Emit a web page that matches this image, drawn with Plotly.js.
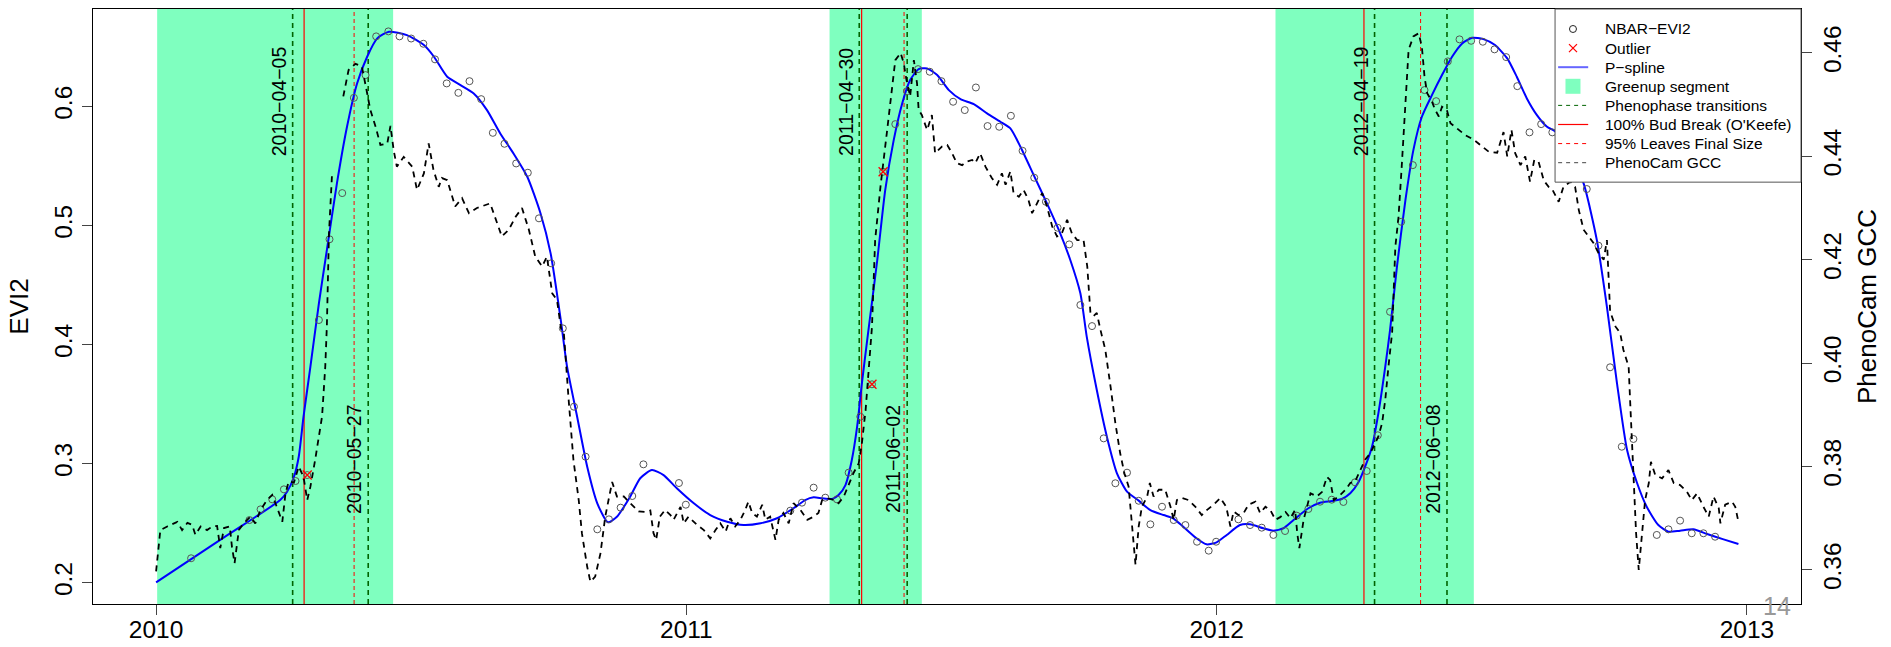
<!DOCTYPE html>
<html>
<head>
<meta charset="utf-8">
<script src="https://cdn.plot.ly/plotly-3.0.1.min.js"></script>
<style>
html,body{margin:0;padding:0;background:#fff;}
#chart{width:1891px;height:647px;}
</style>
</head>
<body>
<div id="chart"></div>
<script>
// ---------- DATA (decimal years) ----------
const yearTicks = [2010, 2011, 2012, 2013];
const yearTickText = ['2010', '2011', '2012', '2013'];
const eviTicks = [0.2, 0.3, 0.4, 0.5, 0.6];
const eviTickText = ['0.2', '0.3', '0.4', '0.5', '0.6'];
const gccTicks = [0.36, 0.38, 0.40, 0.42, 0.44, 0.46];
const gccTickText = ['0.36', '0.38', '0.40', '0.42', '0.44', '0.46'];

// NBAR-EVI2 observations
const eviX = [2010.066,2010.176,2010.197,2010.219,2010.241,2010.263,2010.285,2010.307,2010.327,2010.351,
  2010.373,2010.395,2010.415,2010.438,2010.459,2010.481,2010.504,2010.526,2010.548,2010.570,
  2010.591,2010.613,2010.635,2010.657,2010.679,2010.701,2010.722,2010.745,2010.767,2010.788,
  2010.810,2010.832,2010.854,2010.876,2010.898,2010.919,2010.986,2010.999,
  2011.196,2011.218,2011.240,2011.262,2011.284,2011.306,2011.328,2011.350,2011.371,2011.394,
  2011.416,2011.437,2011.459,2011.481,2011.503,2011.525,2011.546,2011.568,2011.590,2011.612,
  2011.634,2011.656,2011.678,2011.700,2011.722,2011.743,2011.765,2011.787,2011.809,2011.831,
  2011.853,2011.875,2011.897,2011.919,2011.941,2011.963,2011.985,2011.999,
  2012.041,2012.063,2012.085,2012.107,2012.129,2012.151,2012.173,2012.195,2012.217,2012.239,
  2012.261,2012.283,2012.304,2012.327,2012.348,2012.370,2012.392,2012.414,2012.436,2012.458,
  2012.480,2012.502,2012.524,2012.546,2012.567,2012.590,2012.612,2012.633,2012.698,2012.720,
  2012.742,2012.764,2012.786,2012.830,2012.852,2012.874,2012.896,2012.918,2012.940];
const eviY = [0.2205,0.2526,0.2616,0.2700,0.2784,0.2854,0.2904,0.4206,0.4884,0.5272,
  0.6072,0.6263,0.6588,0.6630,0.6588,0.6570,0.6526,0.6395,0.6193,0.6114,
  0.6212,0.6061,0.5778,0.5686,0.5521,0.5443,0.5060,0.4682,0.4136,0.3478,
  0.3058,0.2448,0.2532,0.2630,0.2728,0.2994,0.2837,0.2655,
  0.2605,0.2672,0.2798,0.2714,0.2700,0.2924,0.3394,0.3666,0.5451,0.5851,
  0.6128,0.6313,0.6291,0.6212,0.6039,0.5969,0.6159,0.5835,0.5829,0.5921,
  0.5627,0.5401,0.5199,0.4981,0.4841,0.4332,0.4155,0.3212,0.2835,0.2924,
  0.2688,0.2490,0.2638,0.2526,0.2484,0.2344,0.2269,0.2344,
  0.2532,0.2484,0.2462,0.2401,0.2434,0.2563,0.2619,0.2680,0.2697,0.2678,
  0.2843,0.2938,0.3238,0.4275,0.5031,0.5507,0.6137,0.6044,0.6378,0.6563,
  0.6551,0.6543,0.6479,0.6414,0.6170,0.5782,0.5851,0.5782,0.5306,0.4830,
  0.3809,0.3142,0.3207,0.2401,0.2448,0.2521,0.2415,0.2415,0.2386];

// Outliers
const outlierX = [2010.285, 2011.350, 2011.371];
const outlierY = [0.2904, 0.3666, 0.5451];

// P-spline fit
const splineX = [2010.000,2010.128,2010.234,2010.247,2010.260,2010.269,2010.278,2010.291,2010.307,2010.322,
  2010.341,2010.360,2010.379,2010.398,2010.417,2010.439,2010.473,2010.505,2010.524,2010.549,
  2010.574,2010.599,2010.624,2010.649,2010.674,2010.700,2010.725,2010.744,2010.764,2010.775,
  2010.794,2010.813,2010.832,2010.852,2010.869,2010.894,2010.913,2010.935,2010.957,2010.982,
  2011.014,2011.045,2011.077,2011.108,2011.140,2011.171,2011.202,2011.224,2011.240,2011.256,
  2011.275,2011.287,2011.300,2011.312,2011.322,2011.331,2011.341,2011.360,2011.375,2011.391,
  2011.407,2011.422,2011.438,2011.454,2011.473,2011.495,2011.517,2011.542,2011.567,2011.592,
  2011.611,2011.630,2011.655,2011.680,2011.705,2011.724,2011.743,2011.755,2011.774,2011.793,
  2011.812,2011.831,2011.853,2011.875,2011.900,2011.918,2011.937,2011.962,2011.981,2012.000,
  2012.019,2012.044,2012.063,2012.088,2012.107,2012.126,2012.145,2012.173,2012.195,2012.218,
  2012.236,2012.252,2012.268,2012.280,2012.293,2012.305,2012.318,2012.327,2012.340,2012.356,
  2012.371,2012.387,2012.406,2012.425,2012.444,2012.463,2012.482,2012.503,2012.525,2012.548,
  2012.566,2012.585,2012.604,2012.623,2012.639,2012.665,2012.692,2012.717,2012.736,2012.755,
  2012.774,2012.793,2012.811,2012.833,2012.852,2012.874,2012.899,2012.925,2012.956,2012.984];
const splineY = [0.2003,0.2381,0.2694,0.2764,0.2890,0.3058,0.3394,0.3814,0.4346,0.4793,
  0.5353,0.5829,0.6193,0.6417,0.6571,0.6627,0.6599,0.6515,0.6417,0.6249,
  0.6179,0.6109,0.5969,0.5773,0.5605,0.5409,0.5101,0.4766,0.4178,0.3814,
  0.3394,0.2974,0.2667,0.2507,0.2554,0.2722,0.2877,0.2946,0.2904,0.2793,
  0.2667,0.2568,0.2512,0.2484,0.2499,0.2541,0.2625,0.2694,0.2717,0.2709,
  0.2703,0.2736,0.2820,0.3030,0.3310,0.3674,0.4038,0.4710,0.5297,0.5717,
  0.6025,0.6221,0.6313,0.6319,0.6263,0.6137,0.6061,0.6019,0.5941,0.5871,
  0.5815,0.5661,0.5423,0.5185,0.4934,0.4710,0.4430,0.4066,0.3618,0.3226,
  0.2919,0.2764,0.2689,0.2610,0.2568,0.2541,0.2470,0.2373,0.2322,0.2339,
  0.2401,0.2484,0.2490,0.2457,0.2437,0.2457,0.2526,0.2625,0.2672,0.2686,
  0.2703,0.2751,0.2848,0.2974,0.3142,0.3422,0.3814,0.4122,0.4653,0.5213,
  0.5633,0.5913,0.6095,0.6263,0.6417,0.6529,0.6576,0.6565,0.6515,0.6403,
  0.6249,0.6067,0.5927,0.5829,0.5787,0.5620,0.5353,0.4877,0.4317,0.3674,
  0.3114,0.2835,0.2638,0.2484,0.2428,0.2437,0.2448,0.2409,0.2364,0.2325];

// PhenoCam GCC (null = gap in record)
const gccX = [2010.000,2010.008,2010.021,2010.040,2010.049,2010.059,2010.068,2010.074,2010.084,2010.096,
  2010.106,2010.115,2010.121,2010.128,2010.139,2010.143,2010.148,2010.156,2010.165,2010.178,
  2010.187,2010.197,2010.209,2010.219,2010.225,2010.238,2010.244,2010.250,2010.260,2010.269,
  2010.278,2010.285,2010.291,2010.300,2010.313,2010.319,2010.322,2010.326,2010.332,null,
  2010.353,2010.363,2010.376,2010.388,2010.398,2010.404,2010.414,2010.423,2010.436,2010.442,
  2010.448,2010.454,2010.467,2010.483,2010.492,2010.505,2010.514,2010.523,2010.533,2010.539,
  2010.549,2010.564,2010.577,2010.590,2010.605,2010.630,2010.652,2010.665,2010.678,2010.690,
  2010.703,2010.715,2010.728,2010.737,2010.747,2010.756,2010.764,2010.769,2010.778,2010.787,
  2010.797,2010.803,2010.813,2010.819,2010.828,2010.838,2010.847,2010.860,2010.869,2010.882,
  2010.894,2010.910,2010.923,2010.932,2010.938,2010.943,2010.950,2010.960,2010.970,2010.976,
  2010.989,2010.995,2011.004,2011.020,2011.033,2011.045,2011.055,2011.064,2011.074,2011.083,
  2011.092,2011.102,2011.111,2011.117,2011.124,2011.133,2011.143,2011.149,2011.158,2011.168,
  2011.174,2011.183,2011.193,2011.202,2011.215,2011.228,2011.240,2011.249,2011.256,2011.265,
  2011.278,2011.287,2011.297,2011.306,2011.315,2011.325,2011.331,2011.338,2011.344,2011.350,
  2011.356,2011.366,2011.378,2011.388,2011.394,2011.404,2011.410,2011.415,2011.422,2011.429,
  2011.435,2011.438,2011.444,2011.454,2011.463,2011.469,2011.482,2011.492,2011.501,2011.510,
  2011.520,2011.529,2011.539,2011.545,2011.554,2011.564,2011.576,2011.586,2011.595,2011.602,
  2011.611,2011.617,2011.627,2011.636,2011.645,2011.652,2011.661,2011.671,2011.680,2011.690,
  2011.699,2011.708,2011.718,2011.727,2011.737,2011.749,2011.756,2011.762,2011.768,2011.774,
  2011.781,2011.790,2011.800,2011.809,2011.818,2011.826,2011.834,2011.840,2011.847,2011.853,
  2011.859,2011.869,2011.874,2011.881,2011.891,2011.903,2011.913,2011.919,2011.925,2011.935,
  2011.947,2011.960,2011.972,2011.982,2011.994,2012.007,2012.018,2012.026,2012.032,2012.041,
  2012.051,2012.060,2012.073,2012.082,2012.092,2012.101,2012.111,2012.120,2012.130,2012.139,
  2012.148,2012.152,2012.156,2012.164,2012.177,2012.189,2012.199,2012.208,2012.214,2012.221,
  2012.230,2012.243,2012.252,2012.261,2012.271,2012.280,2012.290,2012.299,2012.305,2012.312,
  2012.318,2012.324,2012.331,2012.337,2012.343,2012.349,2012.356,2012.362,2012.371,2012.381,
  2012.387,2012.392,2012.397,2012.406,2012.412,2012.419,2012.425,2012.434,2012.441,2012.453,
  2012.469,2012.485,2012.500,2012.513,2012.529,2012.541,2012.548,2012.556,2012.563,2012.573,
  2012.582,2012.591,2012.599,2012.607,2012.617,2012.626,2012.632,2012.645,2012.654,2012.667,
  2012.676,2012.683,2012.692,2012.701,2012.711,2012.720,2012.730,2012.736,2012.742,2012.752,
  2012.761,2012.767,2012.777,2012.780,2012.783,2012.786,2012.791,2012.796,2012.802,2012.808,
  2012.815,2012.819,2012.827,2012.840,2012.852,2012.862,2012.874,2012.887,2012.896,2012.906,
  2012.918,2012.928,2012.937,2012.947,2012.950,2012.959,2012.972,2012.978,2012.984];
const gccY = [0.3597,0.3677,0.3684,0.3693,0.3677,0.3691,0.3687,0.3668,0.3684,0.3677,
  0.3684,0.3685,0.3642,0.3681,0.3684,0.3645,0.3613,0.3677,0.3690,0.3703,
  0.3690,0.3716,0.3735,0.3745,0.3729,0.3693,0.3748,0.3771,0.3769,0.3800,
  0.3780,0.3735,0.3761,0.3813,0.3897,0.3993,0.4071,0.4251,0.4370,null,
  0.4516,0.4567,0.4579,0.4574,0.4522,0.4490,0.4457,0.4422,0.4425,0.4459,
  0.4412,0.4380,0.4399,0.4380,0.4335,0.4367,0.4425,0.4374,0.4341,0.4358,
  0.4354,0.4303,0.4319,0.4290,0.4300,0.4309,0.4245,0.4258,0.4283,0.4300,
  0.4258,0.4206,0.4187,0.4206,0.4135,0.4122,0.4064,0.4058,0.3929,0.3813,
  0.3735,0.3671,0.3606,0.3577,0.3587,0.3632,0.3703,0.3770,0.3742,0.3742,
  0.3729,0.3713,0.3712,0.3715,0.3671,0.3658,0.3703,0.3716,0.3706,0.3697,
  0.3722,0.3690,0.3703,0.3687,0.3677,0.3661,0.3677,0.3690,0.3674,0.3700,
  0.3684,0.3697,0.3716,0.3732,0.3710,0.3703,0.3726,0.3697,0.3703,0.3658,
  0.3697,0.3710,0.3690,0.3729,0.3716,0.3697,0.3703,0.3710,0.3735,0.3739,
  0.3735,0.3729,0.3742,0.3764,0.3787,0.3806,0.3845,0.3909,0.3993,0.4070,
  0.4238,0.4341,0.4445,0.4541,0.4586,0.4600,0.4580,0.4548,0.4516,0.4586,
  0.4541,0.4490,0.4480,0.4451,0.4480,0.4406,0.4419,0.4422,0.4406,0.4387,
  0.4383,0.4390,0.4393,0.4387,0.4406,0.4380,0.4358,0.4345,0.4367,0.4345,
  0.4371,0.4329,0.4322,0.4335,0.4316,0.4290,0.4309,0.4329,0.4303,0.4264,
  0.4245,0.4251,0.4277,0.4251,0.4238,0.4238,0.4187,0.4097,0.4091,0.4097,
  0.4064,0.4026,0.3954,0.3884,0.3826,0.3787,0.3761,0.3697,0.3610,0.3684,
  0.3722,0.3742,0.3768,0.3742,0.3755,0.3755,0.3722,0.3697,0.3735,0.3739,
  0.3735,0.3722,0.3706,0.3716,0.3726,0.3739,0.3722,0.3684,0.3713,0.3706,
  0.3710,0.3726,0.3732,0.3710,0.3722,0.3716,0.3697,0.3702,0.3712,0.3700,
  0.3716,0.3671,0.3642,0.3697,0.3748,0.3742,0.3751,0.3780,0.3774,0.3735,
  0.3742,0.3755,0.3768,0.3771,0.3793,0.3813,0.3826,0.3845,0.3858,0.3884,
  0.3929,0.3993,0.4060,0.4225,0.4283,0.4380,0.4509,0.4606,0.4632,0.4638,
  0.4612,0.4554,0.4522,0.4506,0.4490,0.4477,0.4496,0.4490,0.4464,0.4454,
  0.4441,0.4432,0.4419,0.4409,0.4407,0.4447,0.4400,0.4451,0.4406,0.4383,
  0.4400,0.4351,0.4393,0.4390,0.4353,0.4341,0.4338,0.4312,0.4341,0.4351,
  0.4341,0.4296,0.4258,0.4245,0.4232,0.4213,0.4200,0.4238,0.4100,0.4071,
  0.4058,0.4026,0.3993,0.3922,0.3851,0.3768,0.3671,0.3600,0.3664,0.3735,
  0.3768,0.3809,0.3784,0.3777,0.3793,0.3768,0.3764,0.3751,0.3735,0.3748,
  0.3722,0.3703,0.3742,0.3719,0.3690,0.3726,0.3732,0.3722,0.3693];

// Greenup segments
const greenupStart = [2010.002, 2011.270, 2012.111];
const greenupEnd = [2010.447, 2011.444, 2012.485];
// Phenophase transitions (start / end of greenup)
const transitionDates = [2010.2575, 2010.4000, 2011.3260, 2011.4164, 2012.2978, 2012.4344];
const transitionLabels = ['2010−04−05', '2010−05−27', '2011−04−30', '2011−06−02', '2012−04−19', '2012−06−08'];
const transitionLabelLevel = [0.604, 0.304, 0.604, 0.304, 0.604, 0.304];
// Ground observations
const budBreakDates = [2010.2791, 2011.3305, 2012.2778];
const leavesFinalDates = [2010.3734, 2011.4105, 2012.3846];

const legendNames = ['NBAR−EVI2', 'Outlier', 'P−spline', 'Greenup segment', 'Phenophase transitions',
  "100% Bud Break (O'Keefe)", '95% Leaves Final Size', 'PhenoCam GCC'];

// ---------- CHART ----------
const FONT = 'Liberation Sans, Arial, Helvetica, sans-serif';
const EVI_RANGE = [0.1821, 0.6818];
const GCC_RANGE = [0.3534, 0.4685];
const X_RANGE = [2009.881, 2013.102];
const MINT = 'rgb(127,255,191)';
const C = {pheno: '#006400', red: '#ff0000', blue: '#0000ff', pts: '#555555', gcc: '#000000'};

function vlines(dates) {
  const x = [], y = [];
  dates.forEach(d => { x.push(d, d, null); y.push(EVI_RANGE[0], EVI_RANGE[1], null); });
  return {x, y};
}

const traces = [];
const ph = vlines(transitionDates);
traces.push({x: ph.x, y: ph.y, mode: 'lines', name: legendNames[4],
  line: {color: C.pheno, width: 1.6, dash: '5px,4px'}});
const bb = vlines(budBreakDates);
traces.push({x: bb.x, y: bb.y, mode: 'lines', name: legendNames[5],
  line: {color: C.red, width: 1.2}});
const lf = vlines(leavesFinalDates);
traces.push({x: lf.x, y: lf.y, mode: 'lines', name: legendNames[6],
  line: {color: C.red, width: 1, dash: '4px,3px'}});
traces.push({x: splineX, y: splineY, mode: 'lines', name: legendNames[2],
  line: {color: C.blue, width: 2, shape: 'spline', smoothing: 0.6}});
traces.push({x: eviX, y: eviY, mode: 'markers', name: legendNames[0],
  marker: {symbol: 'circle-open', size: 7, color: C.pts, line: {width: 1, color: C.pts}}});
traces.push({x: outlierX, y: outlierY, mode: 'markers', name: legendNames[1],
  marker: {symbol: 'x-thin-open', size: 9, color: C.red, line: {width: 1.3, color: C.red}}});
traces.push({x: gccX, y: gccY, yaxis: 'y2', mode: 'lines', name: legendNames[7],
  connectgaps: false, line: {color: C.gcc, width: 1.8, dash: '6px,5px'}});

const shapes = greenupStart.map((s, i) => ({
  type: 'rect', xref: 'x', yref: 'paper', x0: s, x1: greenupEnd[i], y0: 0, y1: 1,
  fillcolor: MINT, line: {width: 0}, layer: 'below'
}));

const annotations = transitionDates.map((d, i) => ({
  x: d, y: transitionLabelLevel[i], xref: 'x', yref: 'y', text: transitionLabels[i],
  textangle: -90, showarrow: false, xanchor: 'center', yanchor: 'middle', xshift: -14,
  font: {family: FONT, size: 19.5, color: '#000'}
}));
annotations.push({x: 0.986, y: -0.004, xref: 'paper', yref: 'paper', text: '14', showarrow: false,
  xanchor: 'center', yanchor: 'middle', font: {family: FONT, size: 25, color: '#999999'}});

// ---- legend box (top-right corner of the plot area), R style ----
const LEG = {x0: 0.856, y0: 0.709, symX: 0.8665, lineX0: 0.8578, lineX1: 0.8754, textX: 0.8839,
  rowTop: 0.9664, rowStep: 0.0321};
const rowY = i => LEG.rowTop - i * LEG.rowStep;
shapes.push({type: 'rect', xref: 'paper', yref: 'paper', x0: LEG.x0, x1: 1, y0: LEG.y0, y1: 1,
  fillcolor: '#ffffff', line: {color: '#555555', width: 1}, layer: 'above'});
const pix = (i, dx0, dx1, dy0, dy1, extra) => Object.assign({
  xref: 'paper', yref: 'paper', xsizemode: 'pixel', ysizemode: 'pixel',
  xanchor: LEG.symX, yanchor: rowY(i), x0: dx0, x1: dx1, y0: dy0, y1: dy1, layer: 'above'}, extra);
shapes.push(pix(0, -3.5, 3.5, -3.5, 3.5, {type: 'circle', line: {color: '#222', width: 1}}));
shapes.push(pix(1, -4, 4, -4, 4, {type: 'line', line: {color: C.red, width: 1.2}}));
shapes.push(pix(1, -4, 4, 4, -4, {type: 'line', line: {color: C.red, width: 1.2}}));
shapes.push(pix(3, -7.5, 7.5, -7.5, 7.5, {type: 'rect', fillcolor: MINT, line: {width: 0}}));
const legLine = (i, color, width, dash) => ({type: 'line', xref: 'paper', yref: 'paper',
  x0: LEG.lineX0, x1: LEG.lineX1, y0: rowY(i), y1: rowY(i), layer: 'above',
  line: {color: color, width: width, dash: dash}});
shapes.push(legLine(2, '#6666ff', 2, 'solid'));
shapes.push(legLine(4, C.pheno, 1, '4px,4px'));
shapes.push(legLine(5, C.red, 1.2, 'solid'));
shapes.push(legLine(6, C.red, 1, '4px,4px'));
shapes.push(legLine(7, '#444444', 1, '4px,4px'));
legendNames.forEach((name, i) => annotations.push({
  x: LEG.textX, y: rowY(i), xref: 'paper', yref: 'paper', text: name, showarrow: false,
  xanchor: 'left', yanchor: 'middle', font: {family: FONT, size: 15.5, color: '#000'}
}));

const axisCommon = {
  showgrid: false, zeroline: false, showline: true, linecolor: '#000', linewidth: 1,
  ticks: 'outside', ticklen: 10, tickwidth: 1, tickcolor: '#444',
  tickfont: {family: FONT, size: 24.5, color: '#000'}
};

const layout = {
  width: 1891, height: 647,
  margin: {l: 93, r: 90, t: 9, b: 43, pad: 0},
  paper_bgcolor: '#fff', plot_bgcolor: '#fff',
  font: {family: FONT, color: '#000'},
  showlegend: false,
  xaxis: Object.assign({}, axisCommon, {range: X_RANGE, tickmode: 'array', tickvals: yearTicks,
    ticktext: yearTickText, mirror: true, ticklabelstandoff: -6}),
  yaxis: Object.assign({}, axisCommon, {range: EVI_RANGE, tickmode: 'array', tickvals: eviTicks,
    ticktext: eviTickText, tickangle: -90,
    title: {text: 'EVI2', font: {family: FONT, size: 26}, standoff: 14}}),
  yaxis2: Object.assign({}, axisCommon, {range: GCC_RANGE, tickmode: 'array', tickvals: gccTicks,
    ticktext: gccTickText, tickangle: -90, overlaying: 'y', side: 'right',
    title: {text: 'PhenoCam GCC', font: {family: FONT, size: 26}, standoff: 12}}),
  shapes: shapes,
  annotations: annotations,
  hovermode: false
};

Plotly.newPlot('chart', traces, layout, {staticPlot: true, displayModeBar: false});
</script>
</body>
</html>
